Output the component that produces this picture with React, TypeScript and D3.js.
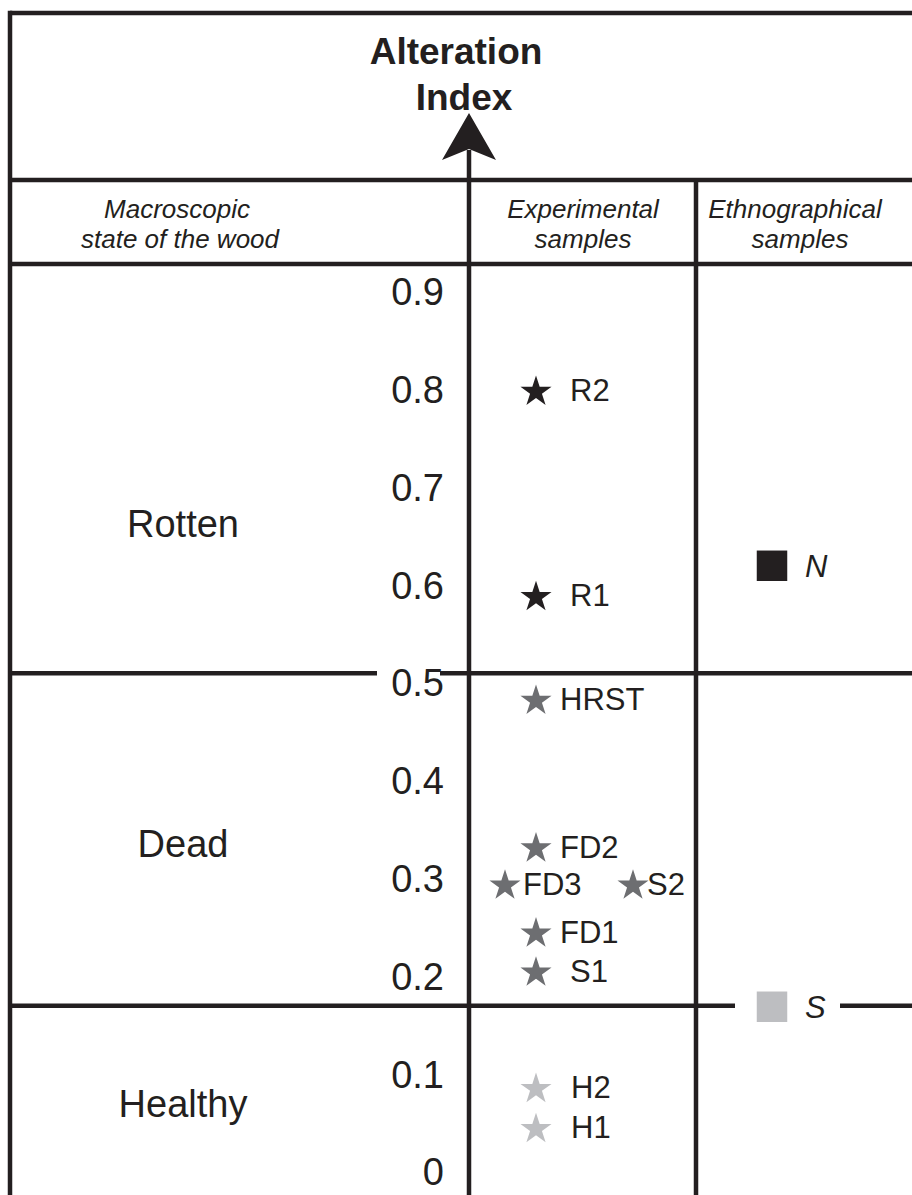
import React from "react";
import * as d3 from "d3";

// ---- data ----
const yTicks = [0, 0.1, 0.2, 0.3, 0.4, 0.5, 0.6, 0.7, 0.8, 0.9];
const states = ["Rotten", "Dead", "Healthy"];
const stateLabelValues = [0.663, 0.336, 0.07];
const stateBoundaries = [0.51, 0.17]; // Rotten|Dead, Dead|Healthy

const sampleNames = ["R2", "R1", "HRST", "FD2", "FD3", "S2", "FD1", "S1", "H2", "H1"];
const sampleValues = [0.8, 0.59, 0.484, 0.333, 0.295, 0.295, 0.246, 0.206, 0.087, 0.046];
const sampleStates = ["Rotten", "Rotten", "Dead", "Dead", "Dead", "Dead", "Dead", "Dead", "Healthy", "Healthy"];
const sampleLanes = ["mid", "mid", "mid", "mid", "left", "right", "mid", "mid", "mid", "mid"];

const ethnoNames = ["N", "S"];
const ethnoValues = [0.62, 0.169];
const ethnoStates = ["Rotten", "Healthy"];

// ---- layout / style ----
const W = 912;
const H = 1195;
const INK = "#231f20";
const LW = 4.5;
const FONT = "'Liberation Sans', Arial, Helvetica, sans-serif";
const stateColor: Record<string, string> = {
  Rotten: "#231f20",
  Dead: "#6d6e71",
  Healthy: "#bdbec1",
};
const labelDx: Record<string, number> = {
  R2: 34, R1: 34, HRST: 24, FD2: 24, FD3: 18, S2: 14, FD1: 24, S1: 34, H2: 35, H1: 35,
};

const xLeft = 10;
const xAxis = 469;
const xCol2 = 696;
const yTop = 13;
const yTitle = 180;
const yHeader = 264;

export default function App() {
  const y = d3.scaleLinear().domain([0, 0.9]).range([1172, 292]);
  const lane = d3.scalePoint<string>().domain(["left", "mid", "right"]).range([505, 633]);
  // mid lane sits a bit left of centre in the reference
  const laneX = (l: string) => (l === "mid" ? 536 : lane(l)!);
  const star = d3.symbol().type(d3.symbolStar).size(300)()!;
  const square = d3.symbol().type(d3.symbolSquare).size(930)()!;

  const yRD = y(stateBoundaries[0]);
  const yDH = y(stateBoundaries[1]);

  return (
    <svg
      width={W}
      height={H}
      style={{ position: "absolute", left: 0, top: 0, background: "#fff" }}
      fontFamily={FONT}
    >
      <rect x={0} y={0} width={W} height={H} fill="#fff" />
      {/* frame lines */}
      <g stroke={INK} strokeWidth={LW} fill="none">
        <line x1={xLeft} x2={W} y1={yTop} y2={yTop} />
        <line x1={xLeft} x2={xLeft} y1={yTop - LW / 2} y2={H} />
        <line x1={xLeft} x2={W} y1={yTitle} y2={yTitle} />
        <line x1={xLeft} x2={W} y1={yHeader} y2={yHeader} />
        {/* Rotten | Dead divider, broken around the 0.5 label */}
        <line x1={xLeft} x2={377} y1={yRD} y2={yRD} />
        <line x1={440} x2={W} y1={yRD} y2={yRD} />
        {/* Dead | Healthy divider, broken around S */}
        <line x1={xLeft} x2={735} y1={yDH} y2={yDH} />
        <line x1={840} x2={W} y1={yDH} y2={yDH} />
        <line x1={xCol2} x2={xCol2} y1={yTitle} y2={H} />
        <line x1={xAxis} x2={xAxis} y1={150} y2={H} />
      </g>
      {/* arrow head */}
      <path d={`M${xAxis},113 L${xAxis + 27},160 L${xAxis},149 L${xAxis - 27},160 Z`} fill={INK} />

      {/* title */}
      <g fill={INK} fontWeight="bold" fontSize={37} textAnchor="middle">
        <text x={456} y={64}>Alteration</text>
        <text x={464} y={110}>Index</text>
      </g>

      {/* headers */}
      <g fill={INK} fontStyle="italic" fontSize={26} textAnchor="middle">
        <text x={177} y={218}>Macroscopic</text>
        <text x={180} y={248}>state of the wood</text>
        <text x={583} y={218}>Experimental</text>
        <text x={583} y={248}>samples</text>
        <text x={795} y={218}>Ethnographical</text>
        <text x={800} y={248}>samples</text>
      </g>

      {/* y tick labels */}
      <g fill={INK} fontSize={38} textAnchor="end">
        {yTicks.map((t) => (
          <text key={t} x={444} y={y(t)} dy="0.35em">
            {d3.format("")(t)}
          </text>
        ))}
      </g>

      {/* state labels */}
      <g fill={INK} fontSize={38} textAnchor="middle">
        {states.map((s, i) => (
          <text key={s} x={183} y={y(stateLabelValues[i])} dy="0.36em">
            {s}
          </text>
        ))}
      </g>

      {/* experimental samples */}
      <g>
        {sampleNames.map((n, i) => {
          const cx = laneX(sampleLanes[i]);
          const cy = y(sampleValues[i]);
          return (
            <g key={n}>
              <path d={star} transform={`translate(${cx},${cy + 2})`} fill={stateColor[sampleStates[i]]} />
              <text x={cx + labelDx[n]} y={cy} dy="0.36em" fontSize={31} fill={INK}>
                {n}
              </text>
            </g>
          );
        })}
      </g>

      {/* ethnographical samples */}
      <g>
        {ethnoNames.map((n, i) => {
          const cy = y(ethnoValues[i]);
          return (
            <g key={n}>
              <path d={square} transform={`translate(772,${cy})`} fill={stateColor[ethnoStates[i]]} />
              <text x={805} y={cy} dy="0.36em" fontSize={31} fontStyle="italic" fill={INK}>
                {n}
              </text>
            </g>
          );
        })}
      </g>
    </svg>
  );
}
